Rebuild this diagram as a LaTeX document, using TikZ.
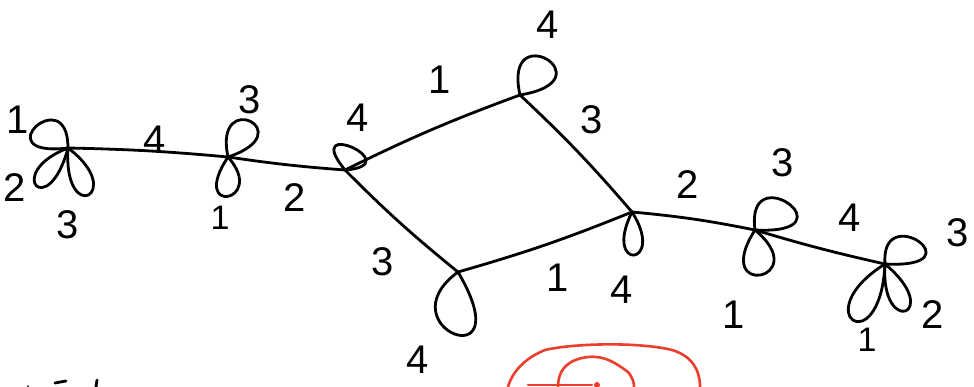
\documentclass[tikz,border=0pt]{standalone}
\usepackage{fontspec}
\setsansfont{Liberation Sans}
\begin{document}
\begin{tikzpicture}[x=1pt,y=-1pt,
  ink/.style={line width=2.8pt,line cap=round,line join=round,black},
  redink/.style={line width=2.6pt,line cap=round,line join=round,draw=sketchred},
  lbl/.style={font=\sffamily\fontsize{40}{40}\selectfont,inner sep=0pt},
  slbl/.style={font=\sffamily\fontsize{34}{34}\selectfont,inner sep=0pt}]
\definecolor{sketchred}{RGB}{236,62,44}
\useasboundingbox (0,0) rectangle (974,387);
% vertices
\coordinate (A) at (68,148);
\coordinate (B) at (228,157);
\coordinate (C) at (345,170);
\coordinate (D) at (520,95);
\coordinate (E) at (632,212);
\coordinate (F) at (458,272);
\coordinate (G) at (755,230);
\coordinate (H) at (885,264);
% edges
\draw[ink] (A) to[bend left=2] (B);
\draw[ink] (B) to[bend right=2] (C);
\draw[ink] (C) to[bend left=3] (D);
\draw[ink] (D) to[bend left=3] (E);
\draw[ink] (C) to[bend right=3] (F);
\draw[ink] (F) to[bend right=3] (E);
\draw[ink] (E) to[bend left=3] (G);
\draw[ink] (G) to[bend right=2] (H);
% loops at A
\draw[ink] (A) .. controls +(-85,10) and +(0,-68) .. (A);
\draw[ink] (A) .. controls +(-65,25) and +(-20,75) .. (A);
\draw[ink] (A) .. controls +(-5,80) and +(60,45) .. (A);
% loops at B
\draw[ink] (B) .. controls +(-15,-70) and +(75,-25) .. (B);
\draw[ink] (B) .. controls +(-40,60) and +(40,45) .. (B);
% loop at C
\draw[ink] (C) .. controls +(-45,-55) and +(65,-5) .. (C);
% loop at D
\draw[ink] (D) .. controls +(-18,-80) and +(90,-15) .. (D);
% loop at E
\draw[ink] (E) .. controls +(-30,60) and +(35,55) .. (E);
% loop at F
\draw[ink] (F) .. controls +(-75,55) and +(65,110) .. (F);
% loops at G
\draw[ink] (G) .. controls +(-10,-75) and +(100,5) .. (G);
\draw[ink] (G) .. controls +(-45,70) and +(60,50) .. (G);
% loops at H
\draw[ink] (H) .. controls +(-5,-65) and +(95,5) .. (H);
\draw[ink] (H) .. controls +(-80,50) and +(-5,100) .. (H);
\draw[ink] (H) .. controls +(-5,75) and +(60,50) .. (H);
% labels
\node[lbl] (a1) at (18,120) {1};
\node[lbl] (a2) at (15,188) {2};
\node[lbl] (a3) at (68,225) {3};
\node[lbl] (ab) at (155,140) {4};
\node[lbl] (b3) at (250,100) {3};
\node[slbl] (b1) at (220,218) {1};
\node[lbl] (bc) at (295,198) {2};
\node[lbl] (c4) at (358,118) {4};
\node[lbl] (cd) at (440,80) {1};
\node[lbl] (d4) at (548,25) {4};
\node[lbl] (de) at (592,120) {3};
\node[lbl] (fe) at (558,278) {1};
\node[lbl] (e4) at (622,290) {4};
\node[lbl] (cf) at (383,262) {3};
\node[lbl] (f4) at (418,360) {4};
\node[lbl] (eg) at (688,185) {2};
\node[lbl] (g3) at (783,163) {3};
\node[lbl] (g1) at (734,315) {1};
\node[lbl] (gh) at (850,218) {4};
\node[lbl] (h3) at (958,233) {3};
\node[lbl] (h2) at (933,315) {2};
\node[slbl] (h1) at (867,340) {1};
% red partial strokes
\draw[redink] (508,387) .. controls (512,372) and (525,358) .. (545,350)
  .. controls (575,343) and (640,342) .. (672,350)
  .. controls (692,356) and (700,370) .. (700,387);
\draw[redink] (558,387) .. controls (558,372) and (565,362) .. (582,358)
  .. controls (600,354) and (612,360) .. (628,372)
  .. controls (633,378) and (634,383) .. (634,387);
\draw[redink] (528,385) -- (592,385);
\fill[sketchred] (597,385) circle (3);
% bottom-left cut-off marks
\draw[ink] (55,383) -- (66,381);
\draw[ink] (97,380) -- (96,387);
\fill (28,386) circle (1);
\end{tikzpicture}
\end{document}
